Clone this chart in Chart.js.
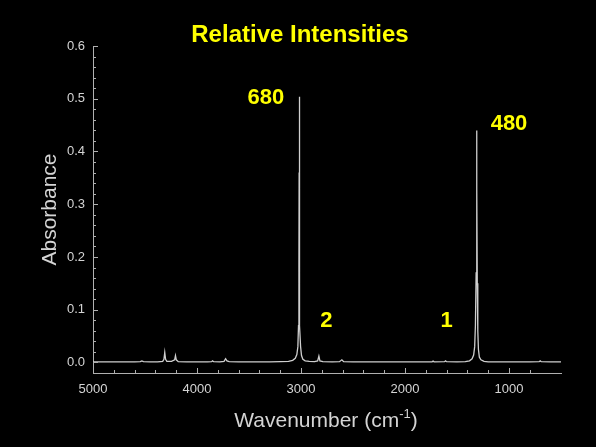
<!DOCTYPE html>
<html>
<head>
<meta charset="utf-8">
<script src="https://cdn.jsdelivr.net/npm/chart.js@4/dist/chart.umd.min.js"></script>
<style>
  html, body { margin: 0; padding: 0; background: #000; }
  #wrap { width: 596px; height: 447px; position: relative; }
</style>
</head>
<body>
<div id="wrap"><canvas id="c"></canvas></div>
<script>
// ---- data ----
const wavenumber = [5000,4900,4800,4700,4600,4545,4530,4515,4450,4380,4330,4318,4310,4302,4290,4245,4215,4207,4199,4180,4100,4000,3900,3860,3850,3840,3780,3740,3725,3712,3690,3600,3500,3400,3300,3200,3120,3080,3055,3040,3030,3024,3020,3018,3017,3016,3014,3010,3004,2995,2982,2960,2920,2870,2840,2828,2818,2790,2700,2630,2607,2590,2500,2400,2300,2200,2100,2000,1900,1800,1740,1730,1720,1620,1610,1600,1500,1420,1380,1355,1340,1330,1323,1316,1312,1310,1308,1305,1300,1294,1285,1270,1240,1200,1100,1000,900,800,710,700,690,600,500];
const absorbance = [0.001,0.001,0.001,0.0012,0.001,0.0015,0.003,0.0015,0.001,0.001,0.002,0.006,0.019,0.006,0.002,0.002,0.005,0.013,0.005,0.0015,0.001,0.001,0.001,0.0015,0.003,0.0015,0.001,0.002,0.007,0.003,0.0015,0.001,0.001,0.001,0.0012,0.0015,0.002,0.004,0.008,0.015,0.03,0.07,0.18,0.36,0.504,0.36,0.18,0.07,0.03,0.013,0.006,0.003,0.002,0.0015,0.003,0.012,0.003,0.0015,0.001,0.0015,0.005,0.0015,0.001,0.001,0.001,0.001,0.001,0.001,0.001,0.001,0.0012,0.0025,0.0012,0.0015,0.003,0.0015,0.001,0.0015,0.003,0.007,0.014,0.03,0.07,0.17,0.33,0.44,0.33,0.15,0.06,0.025,0.01,0.005,0.002,0.0012,0.001,0.001,0.001,0.001,0.0015,0.003,0.0015,0.001,0.001];

const xTickLabels = ['5000','4000','3000','2000','1000'];
const yTickLabels = ['0.0','0.1','0.2','0.3','0.4','0.5','0.6'];

const peakLabels = ['680','2','1','480'];
const peakLabelX = [3337, 2755, 1601, 1000];
const peakLabelY = [0.49, 0.068, 0.068, 0.441];

const titleText = 'Relative Intensities';
const yTitle = 'Absorbance';
const xTitleMain = 'Wavenumber (cm';
const xTitleSup = '-1';
const xTitleEnd = ')';

const FONT = '"Liberation Sans", Arial, Helvetica, sans-serif';
const GREY = '#d4d4d4';
const AXIS = '#b0b0b0';
const YELLOW = '#ffff00';

const points = wavenumber.map((w, i) => ({ x: w, y: absorbance[i] }));

const decor = {
  id: 'decor',
  beforeDraw(chart) {
    const ctx = chart.ctx;
    ctx.save();
    ctx.fillStyle = '#000';
    ctx.fillRect(0, 0, chart.width, chart.height);
    ctx.restore();
  },
  afterDraw(chart) {
    const ctx = chart.ctx;
    const xs = chart.scales.x, ys = chart.scales.y;
    const area = chart.chartArea;
    ctx.save();
    // inward tick marks
    ctx.strokeStyle = AXIS;
    ctx.lineWidth = 1;
    xs.ticks.forEach(t => {
      if (t.value % 200 !== 0) return;
      const px = Math.round(xs.getPixelForValue(t.value)) + 0.5;
      const len = (t.value % 1000 === 0) ? 5 : 3;
      ctx.beginPath();
      ctx.moveTo(px, area.bottom);
      ctx.lineTo(px, area.bottom - len);
      ctx.stroke();
    });
    ys.ticks.forEach(t => {
      if (t.value < -1e-9) return;
      const py = Math.round(ys.getPixelForValue(t.value)) + 0.5;
      const major = Math.abs(t.value * 10 - Math.round(t.value * 10)) < 1e-6;
      const len = major ? 5 : 3;
      ctx.beginPath();
      ctx.moveTo(area.left, py);
      ctx.lineTo(area.left + len, py);
      ctx.stroke();
    });

    // title
    ctx.fillStyle = YELLOW;
    ctx.font = 'bold 24px ' + FONT;
    ctx.textAlign = 'center';
    ctx.textBaseline = 'alphabetic';
    ctx.fillText(titleText, 300, 42);

    // peak labels
    ctx.font = 'bold 22px ' + FONT;
    peakLabels.forEach((s, i) => {
      ctx.fillText(s, xs.getPixelForValue(peakLabelX[i]), ys.getPixelForValue(peakLabelY[i]));
    });

    // y title
    ctx.fillStyle = GREY;
    ctx.font = '21px ' + FONT;
    ctx.save();
    ctx.translate(56, (area.top + area.bottom) / 2 + 0);
    ctx.rotate(-Math.PI / 2);
    ctx.textAlign = 'center';
    ctx.fillText(yTitle, 0, 0);
    ctx.restore();

    // x title with superscript
    ctx.textAlign = 'left';
    ctx.font = '21px ' + FONT;
    const w1 = ctx.measureText(xTitleMain).width;
    const w3 = ctx.measureText(xTitleEnd).width;
    ctx.font = '13px ' + FONT;
    const w2 = ctx.measureText(xTitleSup).width;
    const total = w1 + w2 + w3;
    let x0 = 326 - total / 2;
    const base = 427;
    ctx.font = '21px ' + FONT;
    ctx.fillText(xTitleMain, x0, base);
    ctx.font = '13px ' + FONT;
    ctx.fillText(xTitleSup, x0 + w1, base - 9);
    ctx.font = '21px ' + FONT;
    ctx.fillText(xTitleEnd, x0 + w1 + w2, base);
    ctx.restore();
  }
};

new Chart(document.getElementById('c'), {
  type: 'scatter',
  data: {
    datasets: [{
      data: points,
      showLine: true,
      borderColor: '#cfcfcf',
      borderWidth: 1.3,
      pointRadius: 0,
      tension: 0,
      fill: false
    }]
  },
  options: {
    responsive: true,
    maintainAspectRatio: false,
    animation: false,
    layout: { padding: { left: 0, top: 46, right: 35, bottom: 0 } },
    plugins: { legend: { display: false }, tooltip: { enabled: false }, title: { display: false } },
    scales: {
      x: {
        type: 'linear',
        reverse: true,
        min: 500,
        max: 5000,
        afterFit(s) { s.height = 74; },
        grid: { display: true, drawOnChartArea: false, drawTicks: false },
        border: { display: true, color: AXIS, width: 1 },
        ticks: {
          stepSize: 200,
          autoSkip: false,
          maxRotation: 0,
          padding: 9,
          color: GREY,
          font: { family: FONT, size: 13 },
          callback(v) {
            const s = String(Math.round(v));
            return xTickLabels.includes(s) ? s : '';
          }
        }
      },
      y: {
        type: 'linear',
        min: -0.02,
        max: 0.6,
        afterFit(s) { s.width = 93; },
        grid: { display: true, drawOnChartArea: false, drawTicks: false },
        border: { display: true, color: AXIS, width: 1 },
        ticks: {
          stepSize: 0.02,
          autoSkip: false,
          padding: 8,
          color: GREY,
          font: { family: FONT, size: 13 },
          callback(v) {
            const s = (Math.round(v * 100) / 100).toFixed(1);
            const isMajor = Math.abs(v * 10 - Math.round(v * 10)) < 1e-6;
            return (isMajor && yTickLabels.includes(s)) ? s : '';
          }
        }
      }
    }
  },
  plugins: [decor]
});
</script>
</body>
</html>
